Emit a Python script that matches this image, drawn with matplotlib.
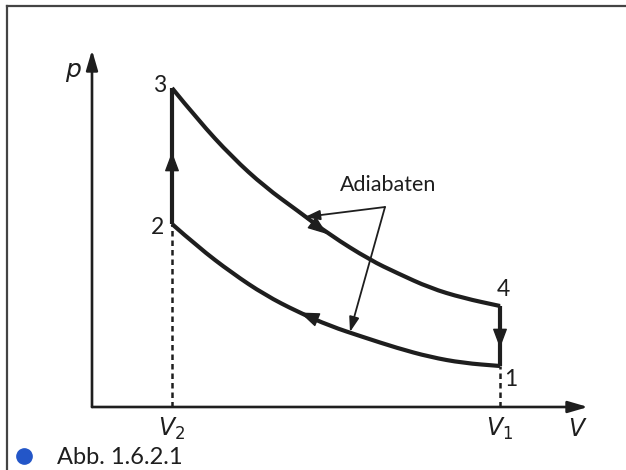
import numpy as np
import matplotlib
matplotlib.use("Agg")
import matplotlib.pyplot as plt
from matplotlib.path import Path
from matplotlib.patches import PathPatch

plt.rcParams["mathtext.fontset"] = "dejavusans"

# state points (V, p) of the cycle, arbitrary units
V2, V1 = 0.80, 4.08
p1, p2, p3, p4 = 0.41, 1.83, 3.19, 1.01

# adiabat 3 -> 4 (expansion)
V_up = [0.80, 1.06, 1.40, 1.73, 2.06, 2.38, 2.78, 3.05, 3.38, 3.71, 4.08]
p_up = [3.19, 2.87, 2.50, 2.20, 1.96, 1.72, 1.47, 1.34, 1.19, 1.09, 1.01]
# adiabat 1 -> 2 (compression)
V_lo = [0.80, 1.06, 1.40, 1.73, 2.06, 2.38, 2.71, 3.05, 3.38, 3.71, 4.08]
p_lo = [1.83, 1.60, 1.34, 1.12, 0.95, 0.81, 0.70, 0.59, 0.50, 0.44, 0.41]

V_max, p_max = 4.96, 3.57
FONT = ["Lato", "DejaVu Sans"]
INK = "#1e1e1e"

fig = plt.figure(figsize=(6.26, 4.70), dpi=100)
ax = fig.add_axes([0, 0, 1, 1])
ax.set_xlim(-0.92, 5.34)
ax.set_ylim(-0.63, 4.07)
ax.axis("off")

def arrow(a, b, lw=1.0, hl=1.1, hw=0.35, color=INK):
    ax.annotate("", xy=b, xytext=a,
                arrowprops=dict(arrowstyle=f"-|>,head_length={hl},head_width={hw}",
                                lw=lw, color=color, shrinkA=0, shrinkB=0,
                                mutation_scale=10))

def smooth(xs, ys, **kw):
    # quadratic pieces through segment midpoints, read points as controls
    pts = list(zip(xs, ys))
    verts, codes = [pts[0]], [Path.MOVETO]
    for i in range(1, len(pts) - 1):
        mid = ((pts[i][0] + pts[i + 1][0]) / 2, (pts[i][1] + pts[i + 1][1]) / 2)
        verts += [pts[i], mid]
        codes += [Path.CURVE3, Path.CURVE3]
    verts.append(pts[-1]); codes.append(Path.LINETO)
    ax.add_patch(PathPatch(Path(verts, codes), fill=False, **kw))

# axes
arrow((0, 0), (V_max, 0), lw=1.9, hl=1.2, hw=0.35)
arrow((0, 0), (0, p_max), lw=1.9, hl=1.2, hw=0.35)

# dashed guides
ax.plot([V2, V2], [0, p2], ls=(0, (2.2, 1.6)), lw=1.8, color=INK)
ax.plot([V1, V1], [0, p1], ls=(0, (2.2, 1.6)), lw=1.8, color=INK)

# cycle
smooth(V_up, p_up, lw=3.0, edgecolor=INK, capstyle="butt")
smooth(V_lo, p_lo, lw=3.0, edgecolor=INK, capstyle="butt")
kw = dict(lw=3.0, color=INK, solid_capstyle="butt", solid_joinstyle="miter")
ax.plot([V2, V2], [p2, p3], **kw)
ax.plot([V1, V1], [p4, p1], **kw)

# direction arrows
arrow((V2, p2), (V2, 2.55), lw=1.0, hl=1.2, hw=0.45)
arrow((V1, p4), (V1, 0.59), lw=1.0, hl=1.2, hw=0.45)
arrow((V_up[4], p_up[4] - 0.01), (V_up[5] - 0.03, p_up[5] + 0.01), lw=1.0, hl=1.2, hw=0.45)
arrow((V_lo[5], p_lo[5] + 0.01), (V_lo[4] + 0.02, p_lo[4] - 0.005), lw=1.0, hl=1.2, hw=0.45)

# "Adiabaten" pointer
apex = (2.93, 2.00)
arrow(apex, (2.13, 1.90), lw=1.3, hl=0.9, hw=0.3)
arrow(apex, (2.58, 0.75), lw=1.3, hl=0.9, hw=0.3)
ax.text(2.96, 2.22, "Adiabaten", fontsize=15.5, family=FONT, color=INK,
        ha="center", va="center")

# labels
tk = dict(fontsize=16.5, family=FONT, color=INK, ha="center", va="center")
ax.text(V2 - 0.12, p3 + 0.02, "3", **tk)
ax.text(V2 - 0.14, p2 - 0.04, "2", **tk)
ax.text(V1 + 0.03, p4 + 0.17, "4", **tk)
ax.text(V1 + 0.11, p1 - 0.14, "1", **tk)
ax.text(-0.19, 3.35, "$p$", fontsize=18, color=INK, ha="center", va="center")
ax.text(V2, -0.22, "$V_2$", fontsize=17, color=INK, ha="center", va="center")
ax.text(V1, -0.22, "$V_1$", fontsize=17, color=INK, ha="center", va="center")
ax.text(4.86, -0.22, "$V$", fontsize=17, color=INK, ha="center", va="center")

# caption
ax.plot([-0.68], [-0.49], "o", ms=11, color="#2356c8")
ax.text(-0.35, -0.50, "Abb. 1.6.2.1", fontsize=17, family=FONT, color=INK,
        ha="left", va="center")

# page frame
fig.add_artist(plt.Line2D([7 / 626, 7 / 626], [0, 1 - 6 / 470], lw=1.6, color="#444444"))
fig.add_artist(plt.Line2D([7 / 626, 1], [1 - 6 / 470, 1 - 6 / 470], lw=1.6, color="#444444"))

fig.savefig("out.png", dpi=100)
